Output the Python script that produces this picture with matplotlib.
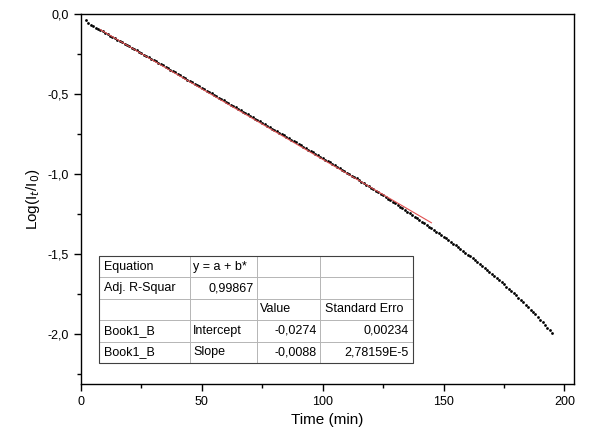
import numpy as np
import matplotlib
matplotlib.use("Agg")
from matplotlib import pyplot as plt
from matplotlib.ticker import MultipleLocator, FuncFormatter

plt.rcParams['font.family'] = ['Liberation Sans', 'DejaVu Sans']

# time (min), one reading per minute
time_min = list(range(2, 196))

log_ratio = [
    -0.036, -0.059, -0.070, -0.078, -0.086, -0.093, -0.101, -0.109,
    -0.118, -0.127, -0.135, -0.144, -0.152, -0.160, -0.168, -0.177, -0.185, -0.193,
    -0.200, -0.210, -0.218, -0.227, -0.235, -0.244, -0.253, -0.261, -0.271, -0.279,
    -0.287, -0.295, -0.304, -0.313, -0.321, -0.330, -0.339, -0.348, -0.356, -0.365,
    -0.374, -0.382, -0.391, -0.400, -0.409, -0.417, -0.426, -0.435, -0.444, -0.452,
    -0.461, -0.470, -0.479, -0.487, -0.496, -0.505, -0.514, -0.522, -0.531, -0.540,
    -0.548, -0.557, -0.566, -0.575, -0.583, -0.592, -0.601, -0.610, -0.618, -0.627,
    -0.636, -0.645, -0.653, -0.662, -0.671, -0.680, -0.688, -0.697, -0.706, -0.715,
    -0.723, -0.732, -0.741, -0.750, -0.758, -0.767, -0.776, -0.785, -0.794, -0.802,
    -0.811, -0.820, -0.829, -0.838, -0.846, -0.855, -0.864, -0.873, -0.882, -0.891,
    -0.900, -0.909, -0.918, -0.927, -0.936, -0.945, -0.954, -0.963, -0.972, -0.981,
    -0.990, -0.999, -1.009, -1.018, -1.027, -1.037, -1.046, -1.056, -1.065, -1.075,
    -1.084, -1.094, -1.104, -1.113, -1.123, -1.133, -1.143, -1.153, -1.163, -1.173,
    -1.183, -1.193, -1.203, -1.213, -1.223, -1.234, -1.244, -1.254, -1.265, -1.275,
    -1.286, -1.296, -1.306, -1.317, -1.327, -1.337, -1.348, -1.358, -1.369, -1.380,
    -1.390, -1.401, -1.412, -1.423, -1.434, -1.445, -1.456, -1.467, -1.479, -1.490,
    -1.502, -1.513, -1.525, -1.537, -1.549, -1.561, -1.573, -1.585, -1.598, -1.610,
    -1.623, -1.636, -1.649, -1.662, -1.675, -1.688, -1.702, -1.715, -1.729, -1.743,
    -1.757, -1.771, -1.785, -1.800, -1.815, -1.830, -1.845, -1.860, -1.876, -1.892,
    -1.908, -1.924, -1.941, -1.958, -1.975, -1.993,
]

# linear fit result (Origin)
intercept = -0.0274
slope = -0.0088
fit_range = [8, 145]

table_rows = [
    ["Equation", "y = a + b*", "", ""],
    ["Adj. R-Squar", "0,99867", "", ""],
    ["", "", "Value", "Standard Erro"],
    ["Book1_B", "Intercept", "-0,0274", "0,00234"],
    ["Book1_B", "Slope", "-0,0088", "2,78159E-5"],
]
right_cells = [(1, 1), (3, 2), (3, 3), (4, 2), (4, 3)]

fig = plt.figure(figsize=(5.94, 4.36), dpi=100)
ax = fig.add_axes([81/594, 1 - 384/436, 493/594, 370/436])

ax.scatter(time_min, log_ratio, s=4, marker='o', color='black', linewidths=0, zorder=3)
fx = np.array(fit_range, dtype=float)
ax.plot(fx, intercept + slope * fx, color='#e05050', lw=0.8, zorder=4)

ax.set_xlim(0, 204)
ax.set_ylim(-2.31, 0.0)
ax.xaxis.set_major_locator(MultipleLocator(50))
ax.xaxis.set_minor_locator(MultipleLocator(25))
ax.yaxis.set_major_locator(MultipleLocator(0.5))
ax.yaxis.set_minor_locator(MultipleLocator(0.25))
ax.yaxis.set_major_formatter(FuncFormatter(lambda v, p: ("%.1f" % v).replace('.', ',').replace('-0,0', '0,0')))
ax.tick_params(which='both', direction='out', top=False, right=False, labelsize=9, width=1)
ax.tick_params(which='major', length=5)
ax.tick_params(which='minor', length=3)
for s in ax.spines.values():
    s.set_linewidth(1)

ax.set_xlabel("Time (min)", fontsize=11)
ax.set_ylabel("Log(I$_t$/I$_0$)", fontsize=11)

tbl = ax.table(cellText=table_rows, colWidths=[0.184, 0.135, 0.128, 0.188],
               bbox=[0.0365, 0.057, 0.637, 0.289], cellLoc='left')
tbl.auto_set_font_size(False)
tbl.set_fontsize(9)
for (r, c), cell in tbl.get_celld().items():
    cell.set_edgecolor('#b0b0b0')
    cell.set_linewidth(0.6)
    cell.PAD = 0.05
    if (r, c) in right_cells:
        cell.get_text().set_ha('right')
        cell._loc = 'right'
ax.add_patch(plt.Rectangle((0.0365, 0.057), 0.637, 0.289, transform=ax.transAxes,
                           fill=False, edgecolor='#404040', lw=0.8, zorder=10))

fig.savefig("out.png", dpi=100)
